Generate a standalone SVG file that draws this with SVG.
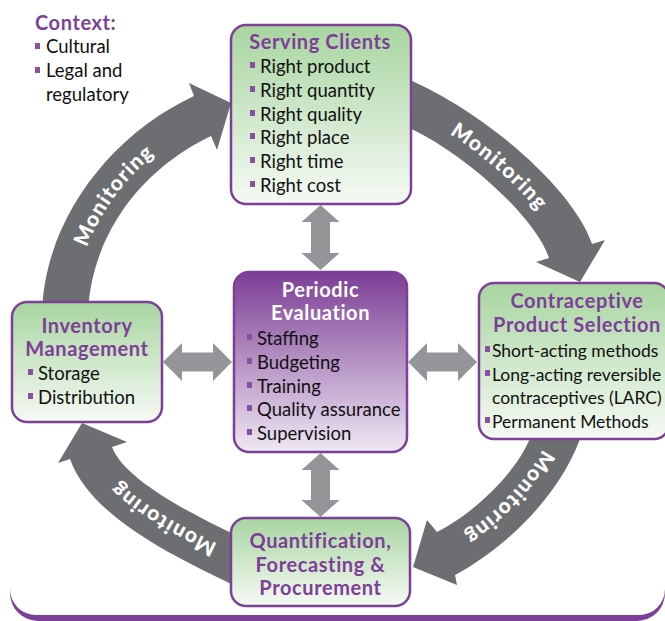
<svg xmlns="http://www.w3.org/2000/svg" width="665" height="621" viewBox="0 0 665 621">
<defs>
<linearGradient id="gGreen" x1="0" y1="0" x2="0" y2="1">
<stop offset="0" stop-color="#a8d5a0"/>
<stop offset="1" stop-color="#f6faf5"/>
</linearGradient>
<linearGradient id="gPurple" x1="0" y1="0" x2="0" y2="1">
<stop offset="0" stop-color="#7c3e96"/>
<stop offset="1" stop-color="#efe8f3"/>
</linearGradient>
<path id="m1" d="M65,320 C68,228 125,152 203,116"/>
<path id="m2" d="M400,100 C467,126 554,201 570,251"/>
<path id="m3" d="M558,430 C543,480 490,530 446,553"/>
<path id="m4" d="M240,562 C181,535 107,498 91,453"/>
</defs>
<style>
.box{stroke:#7d3f98;stroke-width:2.5}
.green{fill:url(#gGreen)}
.purple{fill:url(#gPurple)}
.t{font-family:Lato,"Open Sans","DejaVu Sans",sans-serif;font-weight:bold;font-size:20px;fill:#7d3f98;letter-spacing:0.6px}
.tw{fill:#ffffff}
.b{font-family:Lato,"Open Sans","DejaVu Sans",sans-serif;font-size:18.5px;fill:#111111}
.bs{font-size:17.5px}
.bul{fill:#8a4ea3}
.big{fill:#6d6e71}
.dbl{fill:#939598}
.mon{font-family:Lato,"Open Sans","DejaVu Sans",sans-serif;font-weight:900;font-size:21px;fill:#ffffff;letter-spacing:1.5px}
</style>
<g id="frame">
<rect x="10" y="-40" width="655" height="661" rx="28" fill="#7d3f98"/>
<rect x="10" y="-40" width="655" height="655" rx="26" fill="#ffffff"/>
</g>
<g id="context">
<text class="t" x="35" y="30">Context:</text>
<rect class="bul" x="35" y="43" width="5" height="6"/>
<text class="b" x="46" y="53">Cultural</text>
<rect class="bul" x="35" y="67" width="5" height="6"/>
<text class="b" x="46" y="77">Legal and</text>
<text class="b" x="46" y="101">regulatory</text>
</g>
<g id="connectors">
<path class="big" d="M42,312 C45,220 110,135 194,96 L189,83 L231,103 L217,150 L211,136 C140,170 92,235 88,312 Z"/>
<path class="big" d="M400,76 C479,107 573,187 592,244 L605,240 L580,282 L536,262 L549,258 C535,215 456,146 400,124 Z"/>
<path class="big" d="M583,430 C565,490 508,547 455,575 L457,585 L413,567 L427,520 L437,532 C473,514 521,470 533,430 Z"/>
<path class="big" d="M240,588 C168,554 90,515 70,459 L58,463 L82,423 L127,442 L112,447 C124,480 195,516 240,537 Z"/>
<text class="mon" dy="7"><textPath href="#m1" startOffset="53%" text-anchor="middle">Monitoring</textPath></text>
<text class="mon" dy="7"><textPath href="#m2" startOffset="52%" text-anchor="middle">Monitoring</textPath></text>
<text class="mon" dy="7"><textPath href="#m3" startOffset="50%" text-anchor="middle">Monitoring</textPath></text>
<text class="mon" dy="7"><textPath href="#m4" startOffset="47%" text-anchor="middle">Monitoring</textPath></text>
<path class="dbl" d="M320.5,205 L339.5,222 L330,222 L330,253 L339.5,253 L320.5,270 L301.5,253 L311,253 L311,222 L301.5,222 Z"/>
<path class="dbl" d="M320.5,453 L339.5,470 L330,470 L330,500 L339.5,500 L320.5,517 L301.5,500 L311,500 L311,470 L301.5,470 Z"/>
<path class="dbl" d="M163,362 L182,343 L182,352.5 L213,352.5 L213,343 L232,362 L213,381 L213,371.5 L182,371.5 L182,381 Z"/>
<path class="dbl" d="M408,362 L427,343 L427,352.5 L458,352.5 L458,343 L477,362 L458,381 L458,371.5 L427,371.5 L427,381 Z"/>
</g>
<g id="serving-clients">
<rect class="box green" x="231" y="25" width="180" height="179" rx="15"/>
<text class="t" x="320" y="49" text-anchor="middle">Serving Clients</text>
<rect class="bul" x="250" y="62" width="5" height="6"/>
<text class="b" x="260" y="73">Right product</text>
<rect class="bul" x="250" y="86" width="5" height="6"/>
<text class="b" x="260" y="97">Right quantity</text>
<rect class="bul" x="250" y="110" width="5" height="6"/>
<text class="b" x="260" y="121">Right quality</text>
<rect class="bul" x="250" y="133" width="5" height="6"/>
<text class="b" x="260" y="144">Right place</text>
<rect class="bul" x="250" y="157" width="5" height="6"/>
<text class="b" x="260" y="168">Right time</text>
<rect class="bul" x="250" y="181" width="5" height="6"/>
<text class="b" x="260" y="192">Right cost</text>
</g>
<g id="periodic-evaluation">
<rect class="box purple" x="234" y="272" width="173" height="180" rx="15"/>
<text class="t tw" x="320.5" y="297" text-anchor="middle">Periodic</text>
<text class="t tw" x="320.5" y="320" text-anchor="middle">Evaluation</text>
<rect class="bul" x="247" y="334" width="5" height="6"/>
<text class="b" x="257" y="345">Staffing</text>
<rect class="bul" x="247" y="358" width="5" height="6"/>
<text class="b" x="257" y="369">Budgeting</text>
<rect class="bul" x="247" y="382" width="5" height="6"/>
<text class="b" x="257" y="393">Training</text>
<rect class="bul" x="247" y="405" width="5" height="6"/>
<text class="b" x="257" y="416">Quality assurance</text>
<rect class="bul" x="247" y="429" width="5" height="6"/>
<text class="b" x="257" y="440">Supervision</text>
</g>
<g id="inventory-management">
<rect class="box green" x="12" y="302" width="150" height="120" rx="15"/>
<text class="t" x="87" y="333" text-anchor="middle">Inventory</text>
<text class="t" x="87" y="356" text-anchor="middle">Management</text>
<rect class="bul" x="28" y="369" width="5" height="6"/>
<text class="b" x="38" y="380">Storage</text>
<rect class="bul" x="28" y="393" width="5" height="6"/>
<text class="b" x="38" y="404">Distribution</text>
</g>
<g id="contraceptive-product-selection">
<rect class="box green" x="479" y="283" width="190" height="156" rx="15"/>
<text class="t" x="577" y="308" text-anchor="middle">Contraceptive</text>
<text class="t" x="577" y="332" text-anchor="middle">Product Selection</text>
<rect class="bul" x="485" y="346" width="5" height="6"/>
<text class="b bs" x="492" y="357">Short-acting methods</text>
<rect class="bul" x="485" y="370" width="5" height="6"/>
<text class="b bs" x="492" y="381">Long-acting reversible</text>
<text class="b bs" x="492" y="404">contraceptives (LARC)</text>
<rect class="bul" x="485" y="417" width="5" height="6"/>
<text class="b bs" x="492" y="428">Permanent Methods</text>
</g>
<g id="quantification-forecasting-procurement">
<rect class="box green" x="231" y="518" width="179" height="88" rx="15"/>
<text class="t" x="320.5" y="548" text-anchor="middle">Quantification,</text>
<text class="t" x="320.5" y="572" text-anchor="middle">Forecasting &amp;</text>
<text class="t" x="320.5" y="595" text-anchor="middle">Procurement</text>
</g>
</svg>
